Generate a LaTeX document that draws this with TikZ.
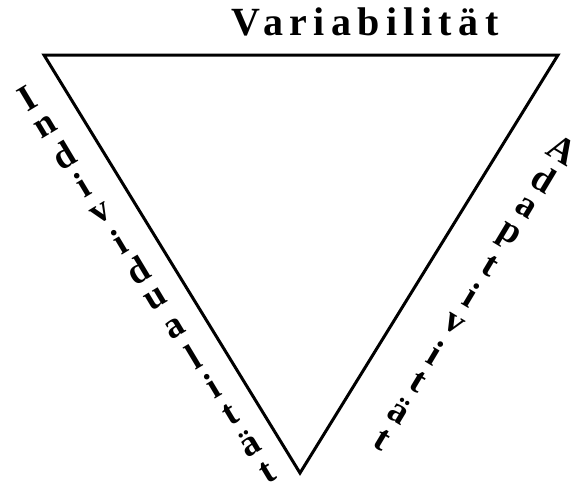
\documentclass[tikz,border=0pt]{standalone}
\usepackage{fontspec}
\setmainfont{Liberation Serif}
\usetikzlibrary{calc}

\begin{document}
\begin{tikzpicture}[x=1pt, y=1pt,
  edge/.style={line width=3pt, line join=miter},
  title/.style={font=\fontsize{40}{40}\selectfont\bfseries\addfontfeatures{LetterSpace=16}, inner sep=0pt},
  sideletter/.style={font=\fontsize{37}{37}\selectfont\bfseries, inner sep=0pt}
]
  \useasboundingbox (0,0) rectangle (581,-491);

  % triangle
  \coordinate (tl) at (44,-55);
  \coordinate (tr) at (558,-55);
  \coordinate (bt) at (300,-473);
  \draw[edge] (tl) -- (tr) -- (bt) -- cycle;

  % top label
  \node[title] (var) at (365,-22) {Variabilität};

  % left label, one letter after the other
  \foreach \ch [count=\i from 0] in {I,n,d,i,v,i,d,u,a,l,i,t,ä,t}
    \node[sideletter, rotate=31] (ind-\i) at ({27+18.5*\i},{-98-28.8*\i}) {\ch};

  % right label
  \foreach \ch [count=\i from 0] in {A,d,a,p,t,i,v,i,t,ä,t}
    \node[sideletter, rotate=-31] (ada-\i) at ({562-18*\i},{-150-29*\i}) {\ch};
\end{tikzpicture}
\end{document}
